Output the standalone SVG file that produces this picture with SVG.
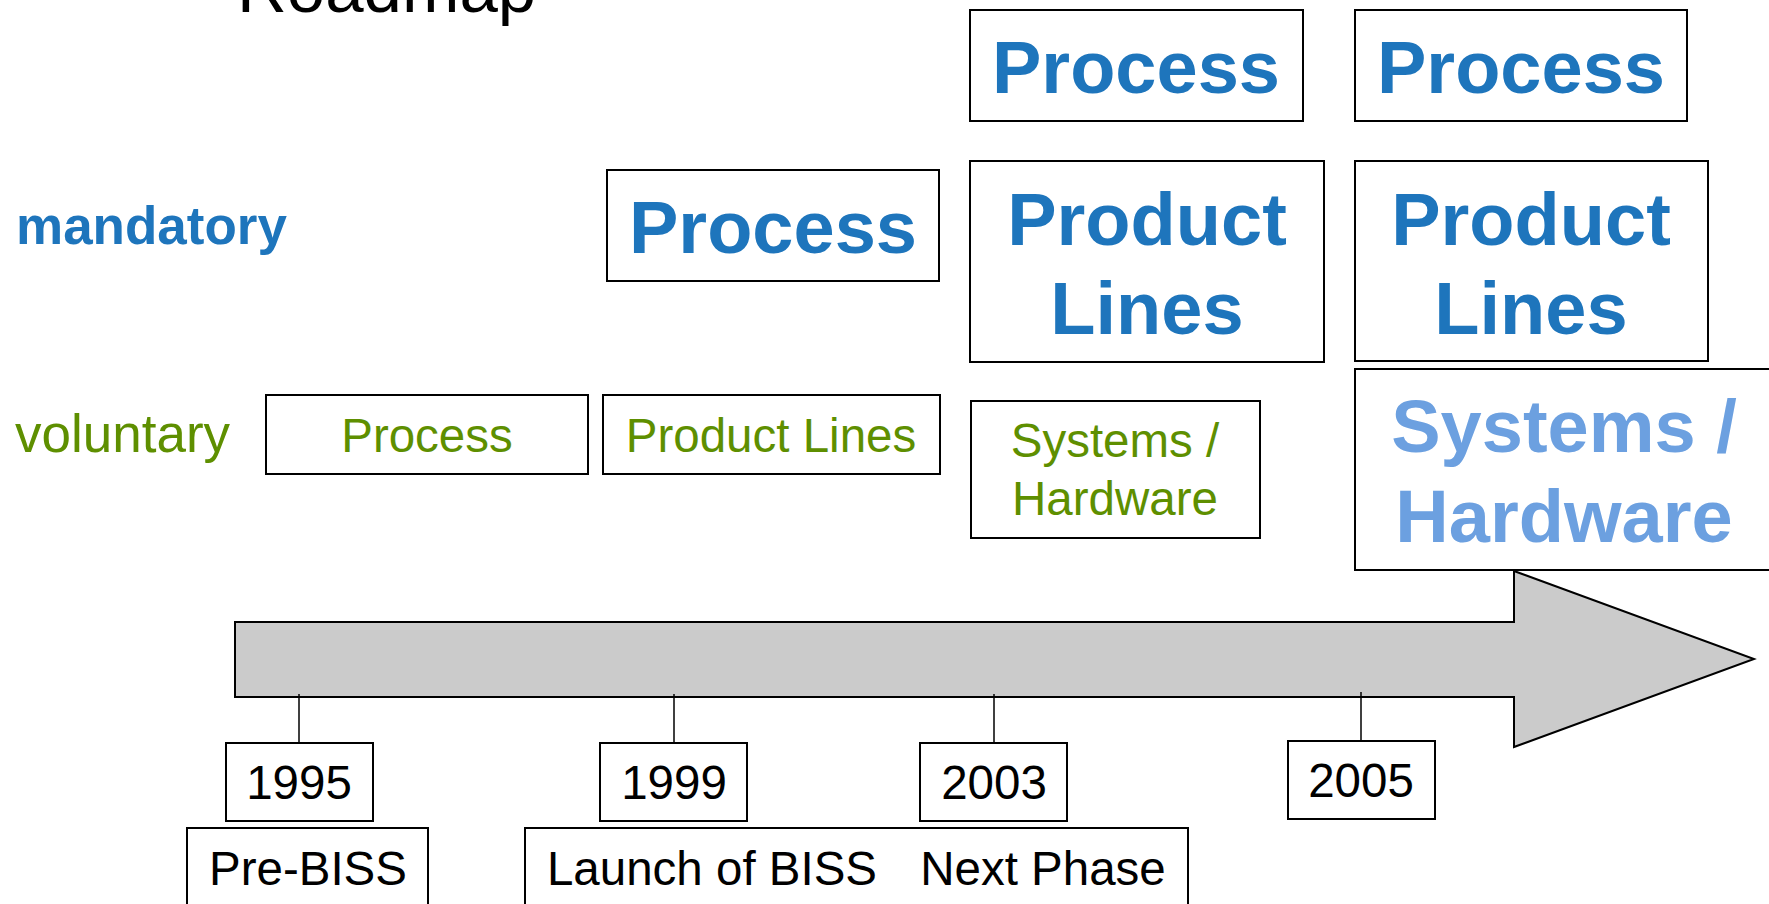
<svg xmlns="http://www.w3.org/2000/svg" width="1769" height="904" viewBox="0 0 1769 904">
<style>
  .box { fill: #ffffff; stroke: #000000; stroke-width: 2; }
  .tick { stroke: #000000; stroke-width: 1.5; fill: none; }
  .t { font-family: "Liberation Sans", Arial, sans-serif; text-anchor: middle; }
  .blue { fill: #1E75BC; font-weight: bold; font-size: 74px; }
  .lblue { fill: #6CA0E0; font-weight: bold; font-size: 74px; }
  .green { fill: #5E8F00; font-size: 47.5px; }
  .black { fill: #000000; font-size: 47.5px; }
</style>
<rect width="1769" height="904" fill="#ffffff"/>
<text x="237" y="12" font-family="Liberation Sans, Arial, sans-serif" font-size="69" fill="#000000">Roadmap</text>
<text x="16" y="244" font-family="Liberation Sans, Arial, sans-serif" font-size="53" font-weight="bold" fill="#1E75BC">mandatory</text>
<text x="15" y="452" font-family="Liberation Sans, Arial, sans-serif" font-size="53" fill="#5E8F00">voluntary</text>

<g id="timeline-arrow">
  <polygon points="235,622 1514,622 1514,571 1754,659 1514,747 1514,697 235,697" fill="#CBCBCB" stroke="#000000" stroke-width="2"/>
</g>

<g id="connectors">
  <line class="tick" x1="299" y1="694" x2="299" y2="743"/>
  <line class="tick" x1="674" y1="694" x2="674" y2="743"/>
  <line class="tick" x1="994" y1="694" x2="994" y2="743"/>
  <line class="tick" x1="1361" y1="692" x2="1361" y2="741"/>
</g>

<g id="vol-process">
  <rect class="box" x="266" y="395" width="322" height="79"/>
  <text class="t green" x="427" y="452">Process</text>
</g>
<g id="vol-productlines">
  <rect class="box" x="603" y="395" width="337" height="79"/>
  <text class="t green" x="771" y="452">Product Lines</text>
</g>
<g id="vol-systems">
  <rect class="box" x="971" y="401" width="289" height="137"/>
  <text class="t green" x="1115" y="457">Systems /</text>
  <text class="t green" x="1115" y="515">Hardware</text>
</g>

<g id="man-process-1999">
  <rect class="box" x="607" y="170" width="332" height="111"/>
  <text class="t blue" x="773" y="253">Process</text>
</g>
<g id="man-process-2003">
  <rect class="box" x="970" y="10" width="333" height="111"/>
  <text class="t blue" x="1136" y="93">Process</text>
</g>
<g id="man-process-2005">
  <rect class="box" x="1355" y="10" width="332" height="111"/>
  <text class="t blue" x="1521" y="93">Process</text>
</g>
<g id="man-productlines-2003">
  <rect class="box" x="970" y="161" width="354" height="201"/>
  <text class="t blue" x="1147" y="245">Product</text>
  <text class="t blue" x="1147" y="334">Lines</text>
</g>
<g id="man-productlines-2005">
  <rect class="box" x="1355" y="161" width="353" height="200"/>
  <text class="t blue" x="1531" y="245">Product</text>
  <text class="t blue" x="1531" y="334">Lines</text>
</g>
<g id="man-systems-2005">
  <rect class="box" x="1355" y="369" width="418" height="201"/>
  <text class="t lblue" x="1564" y="452">Systems /</text>
  <text class="t lblue" x="1564" y="542">Hardware</text>
</g>

<g id="year-1995">
  <rect class="box" x="226" y="743" width="147" height="78"/>
  <text class="t black" x="299" y="799">1995</text>
</g>
<g id="year-1999">
  <rect class="box" x="600" y="743" width="147" height="78"/>
  <text class="t black" x="674" y="799">1999</text>
</g>
<g id="year-2003">
  <rect class="box" x="920" y="743" width="147" height="78"/>
  <text class="t black" x="994" y="799">2003</text>
</g>
<g id="year-2005">
  <rect class="box" x="1288" y="741" width="147" height="78"/>
  <text class="t black" x="1361" y="797">2005</text>
</g>

<g id="phase-prebiss">
  <rect class="box" x="187" y="828" width="241" height="100"/>
  <text class="t black" x="308" y="885">Pre-BISS</text>
</g>
<g id="phase-launch">
  <rect class="box" x="525" y="828" width="663" height="100"/>
  <text class="t black" x="712" y="885">Launch of BISS</text>
  <text class="t black" x="1043" y="885">Next Phase</text>
</g>
</svg>
